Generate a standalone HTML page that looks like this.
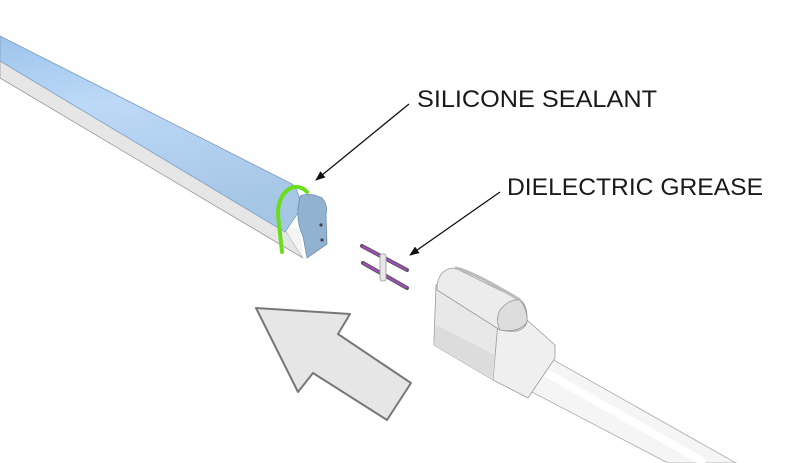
<!DOCTYPE html>
<html><head><meta charset="utf-8"><style>html,body{margin:0;padding:0;background:#fff;width:800px;height:463px;overflow:hidden}</style></head>
<body>
<svg width="800" height="463" viewBox="0 0 800 463" xmlns="http://www.w3.org/2000/svg">
<defs>
<linearGradient id="bl" x1="0" y1="0" x2="0.25" y2="1">
<stop offset="0" stop-color="#9cc4ec"/><stop offset="0.4" stop-color="#bcd9f7"/><stop offset="1" stop-color="#a6c6e6"/></linearGradient>
<marker id="ah" markerWidth="10" markerHeight="8" refX="9" refY="4" orient="auto" markerUnits="userSpaceOnUse"><path d="M0,0 L10,4 L0,8 Z" fill="#111"/></marker>
</defs>
<polygon points="0,60 282,225 303,258 0,78" fill="#e6e6e6" stroke="#999" stroke-width="0.8"/>
<polygon points="282,225 300,230 303,258" fill="#f4f4f4"/>
<path d="M0,36 L292,184 Q300,190 300,210 L285,232 L0,61 Z" fill="url(#bl)" stroke="#7f9fbf" stroke-width="0.8"/>
<path d="M300,196 Q310,192 322,198 Q328,204 326,215 L327,244 L307,258 L303,236 Q297,225 298,208 Z" fill="#92b2d2" stroke="#6f8fae" stroke-width="0.8"/>
<circle cx="321" cy="225" r="1.6" fill="#445"/><circle cx="322" cy="240" r="1.6" fill="#445"/>
<path d="M282,252 L278,215 Q278,193 293,187 Q302,186 307,192" fill="none" stroke="#6ade1c" stroke-width="4" stroke-linecap="round"/>
<line x1="409" y1="104" x2="316" y2="180" stroke="#111" stroke-width="1.3" marker-end="url(#ah)"/>
<line x1="500" y1="192" x2="410" y2="255" stroke="#111" stroke-width="1.3" marker-end="url(#ah)"/>
<text x="417" y="107" font-family="Liberation Sans, sans-serif" font-size="24" fill="#1a1a1a" textLength="240" lengthAdjust="spacingAndGlyphs">SILICONE SEALANT</text>
<text x="507" y="195" font-family="Liberation Sans, sans-serif" font-size="24" fill="#1a1a1a" textLength="256" lengthAdjust="spacingAndGlyphs">DIELECTRIC GREASE</text>
<line x1="362" y1="246" x2="407" y2="270" stroke="#555" stroke-width="4" stroke-linecap="round"/>
<line x1="362" y1="246" x2="407" y2="270" stroke="#a64bc0" stroke-width="2"/>
<line x1="363" y1="263" x2="407" y2="288" stroke="#555" stroke-width="4" stroke-linecap="round"/>
<line x1="363" y1="263" x2="407" y2="288" stroke="#a64bc0" stroke-width="2"/>
<rect x="380" y="254" width="6" height="27" rx="2" fill="#e8e8e8" stroke="#999" stroke-width="0.8"/>
<polygon points="256,308 350,314 338,334 411,383 387,420 313,373 298,392" fill="#e6e6e6" stroke="#777" stroke-width="2" stroke-linejoin="round"/>
<polygon points="550,358 736,463 668,463 528,390" fill="#f5f5f5" stroke="#aaa" stroke-width="0.8"/>
<line x1="545" y1="372" x2="705" y2="463" stroke="#ffffff" stroke-width="8"/>
<polygon points="495,318 527,320 555,345 555,358 528,398 493,380" fill="#efefef" stroke="#999" stroke-width="0.8"/>
<polygon points="434,340 436,285 498,322 493,380 434,345" fill="#e8e8e8" stroke="#999" stroke-width="0.8"/>
<polygon points="436,325 495,355 493,380 434,345" fill="#dcdcdc"/>
<path d="M437,285 Q440,268 455,268 L520,300 Q528,305 527,322 Q523,335 500,330 L437,290 Z" fill="#ececec" stroke="#999" stroke-width="0.8"/>
<path d="M455,268 Q470,270 520,300" fill="none" stroke="#bbb" stroke-width="3"/>
<path d="M500,330 Q495,320 500,310 Q510,298 520,300 Q528,310 527,322 Q520,333 500,330 Z" fill="#dddddd" stroke="#999" stroke-width="0.8"/>
</svg>
</body></html>
